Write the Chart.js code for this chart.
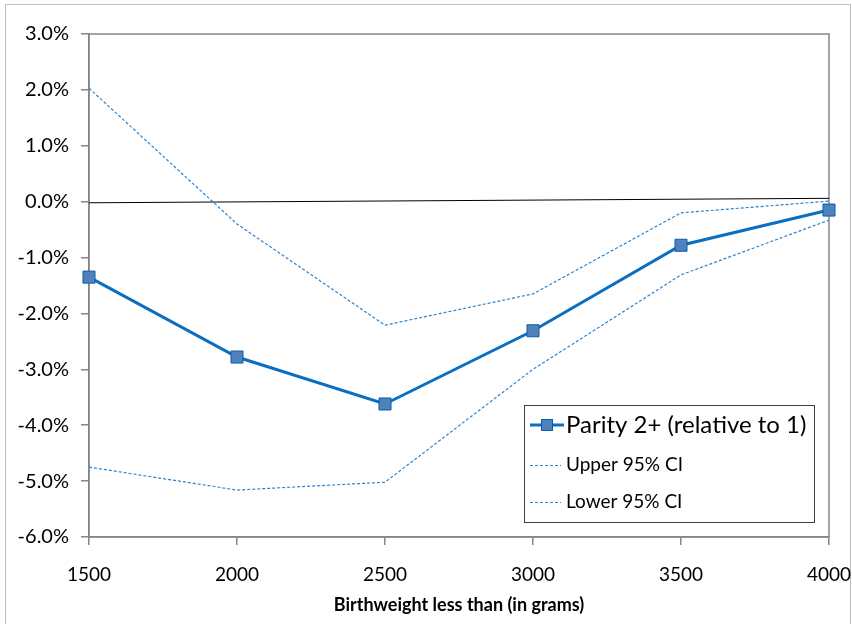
<!DOCTYPE html>
<html>
<head>
<meta charset="utf-8">
<script src="https://cdn.jsdelivr.net/npm/chart.js@4.4.1/dist/chart.umd.min.js"></script>
<style>
  html, body { margin: 0; padding: 0; background: #fff; }
  #wrap { width: 852px; height: 624px; position: relative; }
</style>
</head>
<body>
<div id="wrap"><canvas id="chart" width="852" height="624"></canvas></div>
<script>
// birthweight thresholds (x axis)
const birthweights = [1500, 2000, 2500, 3000, 3500, 4000];
// effect estimates in %
const parity = [-1.35, -2.78, -3.62, -2.31, -0.78, -0.15];
const upperCI = [2.03, -0.40, -2.21, -1.65, -0.20, 0.01];
const lowerCI = [-4.75, -5.16, -5.02, -3.00, -1.31, -0.33];
// thin black reference line (ends)
const refX = [1500, 4000];
const refY = [-0.02, 0.06];
const yTicks = [3, 2, 1, 0, -1, -2, -3, -4, -5, -6];

const FONT = 'Lato, "Open Sans", sans-serif';
const AXIS_GRAY = '#868686';

const toPts = (xs, ys) => xs.map((x, i) => ({ x: x, y: ys[i] }));

const legendItems = [
  { label: 'Parity 2+ (relative to 1)', size: 24, main: true },
  { label: 'Upper 95% CI', size: 19 },
  { label: 'Lower 95% CI', size: 19 }
];

const framePlugin = {
  id: 'frame',
  beforeDraw(chart) {
    const ctx = chart.ctx;
    ctx.save();
    ctx.fillStyle = '#fff';
    ctx.fillRect(0, 0, chart.width, chart.height);
    ctx.strokeStyle = '#BFBFBF';
    ctx.lineWidth = 1;
    ctx.strokeRect(5.5, 4.5, 845, 630);
    ctx.restore();
  },
  beforeDatasetsDraw(chart) {
    // plot area border, drawn under the series so edge markers sit on top
    const a = chart.chartArea;
    const ctx = chart.ctx;
    ctx.save();
    ctx.strokeStyle = AXIS_GRAY;
    ctx.lineWidth = 1.5;
    ctx.strokeRect(a.left, a.top, a.right - a.left, a.bottom - a.top);
    ctx.restore();
  },
  afterDraw(chart) {
    const ctx = chart.ctx;
    const bx = 524.5, by = 405.5, bw = 290, bh = 117;
    ctx.save();
    ctx.fillStyle = '#fff';
    ctx.fillRect(bx, by, bw, bh);
    ctx.strokeStyle = '#404040';
    ctx.lineWidth = 1;
    ctx.strokeRect(bx, by, bw, bh);
    const rows = [425, 465, 502];
    legendItems.forEach((it, i) => {
      const y = rows[i];
      ctx.beginPath();
      if (it.main) {
        ctx.setLineDash([]);
        ctx.strokeStyle = '#0A6FC2';
        ctx.lineWidth = 3;
        ctx.moveTo(530, y); ctx.lineTo(564, y);
        ctx.stroke();
        ctx.fillStyle = '#4F81BD';
        ctx.fillRect(541, y - 6, 12, 12);
        ctx.lineWidth = 1;
        ctx.strokeStyle = '#0A5DA8';
        ctx.strokeRect(541.5, y - 5.5, 11, 11);
      } else {
        ctx.setLineDash([3, 2]);
        ctx.strokeStyle = '#2A84D2';
        ctx.lineWidth = 1;
        ctx.moveTo(530, y + 0.5); ctx.lineTo(561, y + 0.5);
        ctx.stroke();
        ctx.setLineDash([]);
      }
      ctx.fillStyle = '#000';
      ctx.font = it.size + 'px ' + FONT;
      ctx.textBaseline = 'middle';
      ctx.fillText(it.label, 566, y);
    });
    ctx.restore();
  }
};

new Chart(document.getElementById('chart'), {
  type: 'line',
  data: {
    datasets: [
      {
        label: 'ref',
        data: toPts(refX, refY),
        borderColor: '#000',
        borderWidth: 1,
        pointRadius: 0,
        order: 4
      },
      {
        label: 'Upper 95% CI',
        data: toPts(birthweights, upperCI),
        borderColor: '#2A84D2',
        borderWidth: 1.2,
        borderDash: [3, 2],
        pointRadius: 0,
        order: 3
      },
      {
        label: 'Lower 95% CI',
        data: toPts(birthweights, lowerCI),
        borderColor: '#2A84D2',
        borderWidth: 1.2,
        borderDash: [3, 2],
        pointRadius: 0,
        order: 2
      },
      {
        label: 'Parity 2+ (relative to 1)',
        data: toPts(birthweights, parity),
        borderColor: '#0A6FC2',
        borderWidth: 3,
        pointStyle: 'rect',
        pointRadius: 8.5,
        pointBackgroundColor: '#4F81BD',
        pointBorderColor: '#0A5DA8',
        pointBorderWidth: 1,
        clip: false,
        order: 1
      }
    ]
  },
  options: {
    responsive: false,
    animation: false,
    layout: { padding: { top: 34, right: 23, left: 0, bottom: 0 } },
    plugins: { legend: { display: false }, tooltip: { enabled: false } },
    scales: {
      x: {
        type: 'linear',
        min: 1500,
        max: 4000,
        afterBuildTicks: s => { s.ticks = birthweights.map(v => ({ value: v })); },
        ticks: {
          color: '#000',
          font: { family: FONT, size: 19 },
          padding: 18,
          maxRotation: 0,
          callback: v => String(v)
        },
        grid: { drawOnChartArea: false, drawTicks: true, tickLength: 8, color: AXIS_GRAY, lineWidth: 1.5 },
        border: { color: AXIS_GRAY, width: 1.5 },
        title: {
          display: true,
          text: 'Birthweight less than (in grams)',
          color: '#000',
          font: { family: FONT, size: 18, weight: 'bold' },
          padding: { top: 4, bottom: 8 }
        },
        afterFit: s => { s.height = 87; s.paddingLeft = 0; s.paddingRight = 0; }
      },
      y: {
        min: -6,
        max: 3,
        afterBuildTicks: s => { s.ticks = yTicks.map(v => ({ value: v })); },
        ticks: {
          color: '#000',
          font: { family: FONT, size: 20 },
          padding: 12,
          callback: v => v.toFixed(1) + '%'
        },
        grid: { drawOnChartArea: false, drawTicks: true, tickLength: 8, color: AXIS_GRAY, lineWidth: 1.5 },
        border: { color: AXIS_GRAY, width: 1.5 },
        afterFit: s => { s.width = 89; s.paddingTop = 0; s.paddingBottom = 0; }
      }
    }
  },
  plugins: [framePlugin]
});
</script>
</body>
</html>
